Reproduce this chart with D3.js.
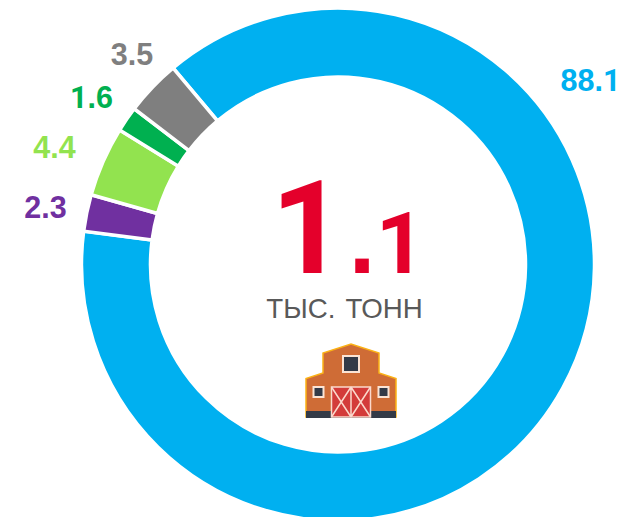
<!DOCTYPE html>
<html>
<head>
<meta charset="utf-8">
<script src="https://cdn.jsdelivr.net/npm/d3@7"></script>
<style>
html, body { margin: 0; padding: 0; background: #fff; }
svg { display: block; }
text { font-family: "Liberation Sans", Arial, sans-serif; }
</style>
</head>
<body>
<div id="chartgoeshere"></div>
<script>
// Data, clockwise from the top of the blue slice
var values = [88.1, 2.3, 4.4, 1.6, 3.5];
var labels = ["88.1", "2.3", "4.4", "1.6", "3.5"];
var colours = ["#00b0f0", "#7030a0", "#92e34f", "#00b050", "#7f7f7f"];

// Label anchors, one per slice
var labelX = [590.5, 45.5, 54.5, 91.5, 132];
var labelY = [91, 218, 158, 108, 65];

var width = 621,
	height = 517,
	cx = 338,
	cy = 264.5;

var svg = d3.select("#chartgoeshere")
	.append("svg")
	.attr("width", width)
	.attr("height", height);

// Ring
var start = -40 * Math.PI / 180;
var pie = d3.pie()
	.sort(null)
	.startAngle(start)
	.endAngle(start + 2 * Math.PI);

var arc = d3.arc()
	.innerRadius(187.5)
	.outerRadius(256.5);

var ring = svg.append("g")
	.attr("transform", "translate(" + cx + "," + cy + ")");

ring.selectAll("path")
	.data(pie(values))
	.enter()
	.append("path")
	.attr("d", arc)
	.attr("fill", function (d, i) {
		return colours[i];
	})
	.attr("stroke", "#fff")
	.attr("stroke-width", 3.5);

// Slice labels
svg.selectAll("text.label")
	.data(labels)
	.enter()
	.append("text")
	.attr("class", "label")
	.attr("x", function (d, i) {
		return labelX[i];
	})
	.attr("y", function (d, i) {
		return labelY[i];
	})
	.attr("text-anchor", "middle")
	.attr("font-size", 30.5)
	.attr("font-weight", "bold")
	.attr("fill", function (d, i) {
		return colours[i];
	})
	.each(function (d) {
		// the digit 1 has a foot in Liberation, Roboto's has none
		var t = d3.select(this);
		d.split("").forEach(function (c) {
			var s = t.append("tspan").text(c);
			if (c === "1") s.style("font-family", "Roboto");
		});
	});

// Centre number
var red = "#e4002b";
svg.append("text")
	.attr("x", 345)
	.attr("y", 273)
	.attr("text-anchor", "end")
	.attr("font-size", 129)
	.attr("font-weight", "bold")
	.attr("fill", red)
	.style("font-family", "Roboto")
	.text("1");

svg.append("text")
	.attr("x", 362)
	.attr("y", 273)
	.attr("text-anchor", "middle")
	.attr("font-size", 96)
	.attr("font-weight", "bold")
	.attr("fill", red)
	.text(".");

svg.append("text")
	.attr("x", 425)
	.attr("y", 273)
	.attr("text-anchor", "end")
	.attr("font-size", 86)
	.attr("font-weight", "bold")
	.attr("fill", red)
	.style("font-family", "Roboto")
	.text("1");

svg.append("text")
	.attr("x", 344.5)
	.attr("y", 318)
	.attr("text-anchor", "middle")
	.attr("font-size", 27.7)
	.attr("word-spacing", 2.5)
	.attr("fill", "#595959")
	.text("ТЫС. ТОНН");

// Barn icon
var barn = svg.append("g");
barn.append("path")
	.attr("d", "M306 378.5V417H396V378.5L379 373V353L351 344L323 353V373Z")
	.attr("fill", "#cf6c36")
	.attr("stroke", "#fbb216")
	.attr("stroke-width", 1.5);
barn.append("rect").attr("x", 306).attr("y", 411).attr("width", 90).attr("height", 7).attr("fill", "#333a47");
barn.append("rect").attr("x", 343).attr("y", 356).attr("width", 16).attr("height", 16).attr("fill", "#333a47").attr("stroke", "#fbe3d3").attr("stroke-width", 2);
barn.append("rect").attr("x", 313.5).attr("y", 387).attr("width", 10).attr("height", 10).attr("fill", "#333a47").attr("stroke", "#fbe3d3").attr("stroke-width", 2);
barn.append("rect").attr("x", 378.5).attr("y", 387).attr("width", 10).attr("height", 10).attr("fill", "#333a47").attr("stroke", "#fbe3d3").attr("stroke-width", 2);
barn.append("rect").attr("x", 331.5).attr("y", 387).attr("width", 39).attr("height", 30).attr("fill", "#d33c3a").attr("stroke", "#fbd9cc").attr("stroke-width", 1.5);
barn.append("path")
	.attr("d", "M351 387V417M331.5 387L351 417M351 387L331.5 417M351 387L370.5 417M370.5 387L351 417")
	.attr("fill", "none")
	.attr("stroke", "#fbd9cc")
	.attr("stroke-width", 1.5);
</script>
</body>
</html>
